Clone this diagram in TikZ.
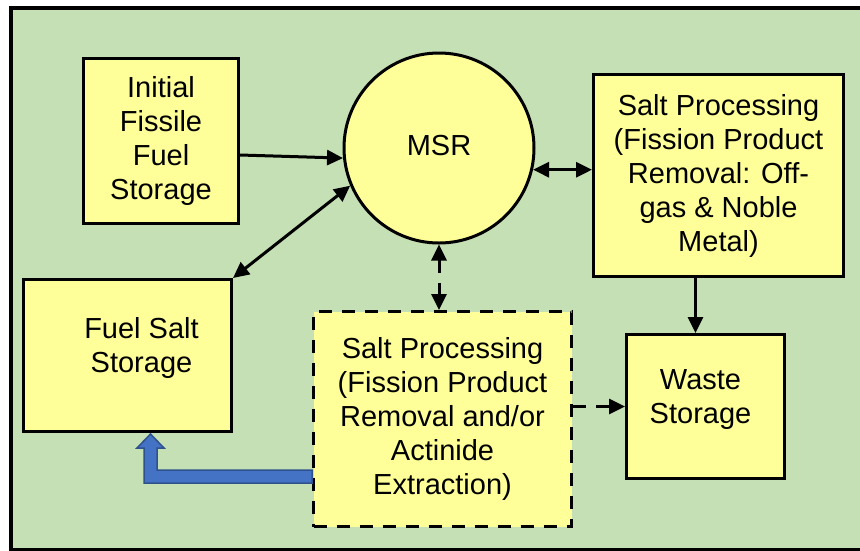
\documentclass[tikz,border=0pt]{standalone}
\usepackage{fontspec}
\setmainfont{Liberation Sans}
\usetikzlibrary{arrows.meta}
\definecolor{bggreen}{HTML}{C5E0B4}
\definecolor{boxyellow}{HTML}{FFFF99}
\definecolor{flowblue}{HTML}{4472C4}
\definecolor{flowedge}{HTML}{2F528F}
\begin{document}
\begin{tikzpicture}[x=1pt,y=-1pt,
  box/.style={draw, line width=3pt, fill=boxyellow, align=center, inner sep=0pt,
    font=\fontsize{29}{34}\selectfont},
  arr/.style={line width=3pt, -{Triangle[length=16pt,width=15pt]}},
  dbl/.style={line width=3pt, {Triangle[length=16pt,width=15pt]}-{Triangle[length=16pt,width=15pt]}},
  dashline/.style={dash pattern=on 13pt off 10pt}]
  \useasboundingbox (0,0) rectangle (860,550);
  \clip (0,0) rectangle (860,550);
  \draw[line width=4pt, fill=bggreen] (11,8) rectangle (880,549.5);
  \node[box, minimum width=155pt, minimum height=165pt] (init) at (161,141) {Initial\\Fissile\\Fuel\\Storage};
  \node[box, circle, minimum size=190pt] (msr) at (439,148) {\raisebox{5pt}{MSR}};
  \node[box, minimum width=250pt, minimum height=202pt] (sp) at (718.5,175.5) {Salt Processing\\(Fission Product\\Removal: Off-\\gas \& Noble\\Metal)};
  \node[box, minimum width=208pt, minimum height=152pt] (fss) at (127.5,355.5)
    {\hspace*{28pt}\begin{tabular}{@{}c@{}}Fuel Salt\\Storage\end{tabular}\rule[-41pt]{0pt}{1pt}};
  \node[box, dashline, minimum width=258pt, minimum height=215pt] (ext) at (442.5,419) {Salt Processing\\(Fission Product\\Removal and/or\\Actinide\\Extraction)};
  \node[box, minimum width=158pt, minimum height=144pt] (waste) at (705.5,406.5)
    {\begin{tabular}{@{}c@{}}Waste\\Storage\end{tabular}\hspace*{10pt}\rule[-41pt]{0pt}{1pt}};
  \draw[arr] ([yshift=-14pt]init.east) -- (msr.186);
  \draw[dbl] (msr.203) -- (fss.north east);
  \draw[dbl] (msr.347) -- (msr.347 -| sp.west);
  \draw[dbl, dashline] (msr.south) -- (msr.south |- ext.north);
  \draw[arr] ([xshift=-10pt]waste.north |- sp.south) -- ([xshift=-10pt]waste.north);
  \draw[arr, dashline] (ext.east |- waste.west) -- (waste.west);
  \draw[line width=1.5pt, draw=flowedge, fill=flowblue] (ext.west |- 0,470) -- ++(-155,0) -- ++(0,-22) -- ++(7,0)
    -- ++(-13.5,-14) -- ++(-13.5,14) -- ++(7,0) -- ++(0,35) -- ++(168,0) -- cycle;
\end{tikzpicture}
\end{document}
